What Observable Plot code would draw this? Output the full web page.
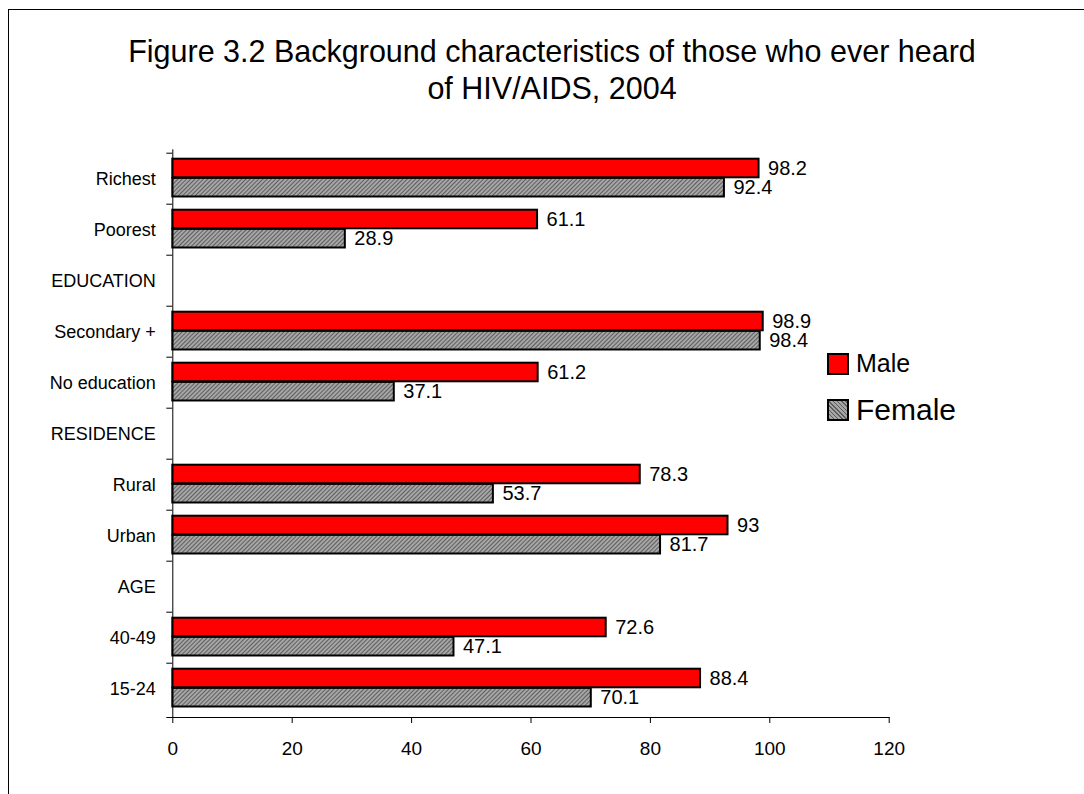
<!DOCTYPE html>
<html><head><meta charset="utf-8">
<script src="https://cdn.jsdelivr.net/npm/d3@7"></script>
<script src="https://cdn.jsdelivr.net/npm/@observablehq/plot@0.6"></script>
<style>
html,body{margin:0;padding:0;background:#fff;overflow:hidden;}
#wrap{position:relative;width:1084px;height:794px;overflow:hidden;font-family:"Liberation Sans",Arial,sans-serif;color:#000;}
#border{position:absolute;left:8px;top:9px;width:1200px;height:1000px;border-left:1.5px solid #000;border-top:1.5px solid #000;}
.t{position:absolute;left:0;width:1104px;text-align:center;white-space:nowrap;font-size:30.5px;line-height:1;}
#chart{position:absolute;left:0;top:0;}
.sw{position:absolute;width:18px;height:18px;border:2px solid #000;}
.lt{position:absolute;white-space:nowrap;line-height:1;}
</style></head>
<body><div id="wrap">
<div id="border"></div>
<div id="chart"></div>
<div class="t" style="top:35.5px;">Figure 3.2 Background characteristics of those who ever heard</div>
<div class="t" style="top:72.8px;">of HIV/AIDS, 2004</div>
<div class="sw" style="left:827px;top:353px;background:#ff0000;"></div>
<div class="lt" style="left:856px;top:351px;font-size:25px;">Male</div>
<div class="sw" style="left:827px;top:399px;background:repeating-linear-gradient(45deg,#5e5e5e 0 1px,#a6a6a6 1px 3px);"></div>
<div class="lt" style="left:856px;top:395px;font-size:30px;">Female</div>
</div>
<script>
const categories = ["Richest","Poorest","EDUCATION","Secondary +","No education","RESIDENCE","Rural","Urban","AGE","40-49","15-24"];
const male = [98.2,61.1,null,98.9,61.2,null,78.3,93,null,72.6,88.4];
const female = [92.4,28.9,null,98.4,37.1,null,53.7,81.7,null,47.1,70.1];
const xTicks = [0,20,40,60,80,100,120];
const seriesNames = ["Male","Female"];
const seriesFills = ["#ff0000","url(#hatch)"];

const W = 1084, H = 794, mTop = 149.3, mBottom = 77, mLeft = 172.3, mRight = 195.3;
const bw = (H - mTop - mBottom) / categories.length;
const padTop = 5.7, barH = 19.2;

const maleRows = categories.map((c, i) => ({category: c, value: male[i], series: seriesNames[0]})).filter(d => d.value != null);
const femaleRows = categories.map((c, i) => ({category: c, value: female[i], series: seriesNames[1]})).filter(d => d.value != null);

const font = "Liberation Sans, Arial, sans-serif";
const plot = Plot.plot({
  width: W, height: H,
  marginTop: mTop, marginBottom: mBottom, marginLeft: mLeft, marginRight: mRight,
  style: {fontFamily: font, background: "transparent", color: "#000"},
  x: {domain: [0, 120], ticks: xTicks, label: null},
  y: {type: "band", domain: categories, padding: 0, label: null},
  marks: [
    Plot.barX(maleRows, {x: "value", y: "category", fill: seriesFills[0], stroke: "#000", strokeWidth: 2,
      insetTop: padTop, insetBottom: bw - padTop - barH}),
    Plot.barX(femaleRows, {x: "value", y: "category", fill: seriesFills[1], stroke: "#000", strokeWidth: 2,
      insetTop: padTop + barH, insetBottom: bw - padTop - 2 * barH}),
    Plot.text(maleRows, {x: "value", y: "category", text: d => String(d.value), dx: 9,
      dy: -(bw / 2 - padTop - barH / 2), textAnchor: "start", fontSize: 20, fill: "#000"}),
    Plot.text(femaleRows, {x: "value", y: "category", text: d => String(d.value), dx: 9,
      dy: (padTop + 1.5 * barH) - bw / 2, textAnchor: "start", fontSize: 20, fill: "#000"}),
    Plot.frame({anchor: "left", stroke: "#000"}),
    Plot.frame({anchor: "bottom", stroke: "#000", insetLeft: -6}),
    Plot.axisY({tickSize: 0, tickPadding: 17, fontSize: 18, fill: "#000", label: null}),
    Plot.axisY({tickSize: 6, tickFormat: () => "", dy: -bw / 2, stroke: "#000", label: null}),
    Plot.axisX({ticks: xTicks, tickSize: 6, tickPadding: 18, fontSize: 19, fill: "#000", stroke: "#000", label: null})
  ]
});
d3.select(plot).insert("defs", ":first-child").html(
  `<pattern id="hatch" patternUnits="userSpaceOnUse" width="3" height="3" patternTransform="rotate(45)">
     <rect width="3" height="3" fill="#a6a6a6"/>
     <line x1="0.5" y1="0" x2="0.5" y2="3" stroke="#5e5e5e" stroke-width="1"/>
   </pattern>`);
document.getElementById("chart").appendChild(plot);
</script>
</body></html>
